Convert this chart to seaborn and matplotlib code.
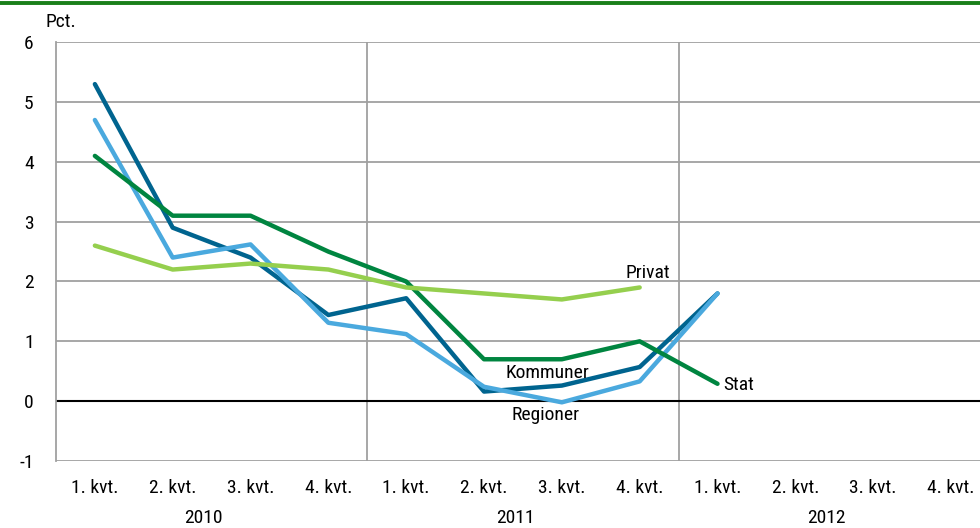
import numpy as np
import pandas as pd
import matplotlib as mpl
import matplotlib.pyplot as plt
from matplotlib.lines import Line2D
import seaborn as sns

# Data
quarters = ['1. kvt.', '2. kvt.', '3. kvt.', '4. kvt.'] * 3
years = ['2010', '2011', '2012']
kommuner = [5.3, 2.9, 2.4, 1.44, 1.72, 0.16, 0.26, 0.57, 1.8]
regioner = [4.7, 2.4, 2.62, 1.31, 1.12, 0.24, -0.02, 0.33, 1.8]
stat = [4.1, 3.1, 3.1, 2.5, 2.0, 0.7, 0.7, 1.0, 0.29]
privat = [2.6, 2.2, 2.3, 2.2, 1.9, 1.8, 1.7, 1.9]

series = {'Kommuner': kommuner, 'Regioner': regioner, 'Stat': stat, 'Privat': privat}
colors = {'Kommuner': '#00648f', 'Regioner': '#4aa9de', 'Stat': '#008540', 'Privat': '#95cf4e'}

rows = []
for name, vals in series.items():
    for i, v in enumerate(vals):
        rows.append({'serie': name, 'idx': i, 'value': v})
df = pd.DataFrame(rows)

sns.set_theme(style='white')
plt.rcParams['font.family'] = ['DejaVu Sans Condensed', 'Liberation Sans Narrow',
                               'Roboto Condensed', 'Liberation Sans', 'DejaVu Sans']
fs = 14
plt.rcParams['font.size'] = fs
plt.rcParams['text.color'] = 'black'
plt.rcParams['xtick.color'] = 'black'
plt.rcParams['ytick.color'] = 'black'

fig = plt.figure(figsize=(9.8, 5.28), dpi=100)
ax = fig.add_axes([0.0571, 0.127, 0.953, 0.793])

# grid lines
for y in range(1, 7):
    ax.axhline(y, color='#a0a0a0', lw=1.3, zorder=0)
ax.axhline(-1, color='#a0a0a0', lw=1.3, zorder=0)
for x in [3.5, 7.5]:
    ax.axvline(x, color='#a0a0a0', lw=1.3, zorder=0)
ax.axhline(0, color='black', lw=1.5, zorder=1)

sns.lineplot(data=df, x='idx', y='value', hue='serie', palette=colors,
             lw=3.2, legend=False, ax=ax, zorder=3)

ax.set_xlim(-0.5, 11.5)
ax.set_ylim(-1, 6)
ax.set_yticks(range(-1, 7))
ax.set_yticklabels([str(v) for v in range(-1, 7)])
ax.set_xticks(range(12))
ax.set_xticklabels(quarters)
ax.tick_params(axis='y', length=0, pad=16, labelsize=fs)
ax.tick_params(axis='x', length=0, pad=13, labelsize=fs)
ax.set_xlabel('')
ax.set_ylabel('')
for s in ['top', 'right', 'bottom']:
    ax.spines[s].set_visible(False)
ax.spines['left'].set_color('#a0a0a0')
ax.spines['left'].set_linewidth(1.3)

# year labels
for i, yr in enumerate(years):
    ax.text(i * 4 + 1.4, -0.136, yr, transform=ax.get_xaxis_transform(),
            ha='center', va='center', fontsize=fs)

# series labels
ax.text(5.81, 0.47, 'Kommuner', ha='center', va='center', fontsize=fs)
ax.text(5.79, -0.23, 'Regioner', ha='center', va='center', fontsize=fs)
ax.text(7.1, 2.15, 'Privat', ha='center', va='center', fontsize=fs)
ax.text(8.07, 0.27, 'Stat', ha='left', va='center', fontsize=fs)

fig.text(0.046, 0.958, 'Pct.', ha='left', va='center', fontsize=fs)
fig.add_artist(Line2D([0, 1], [0.994, 0.994], color='#1a7f1a', lw=2.8,
                      transform=fig.transFigure))

fig.savefig('out.png', dpi=100)
